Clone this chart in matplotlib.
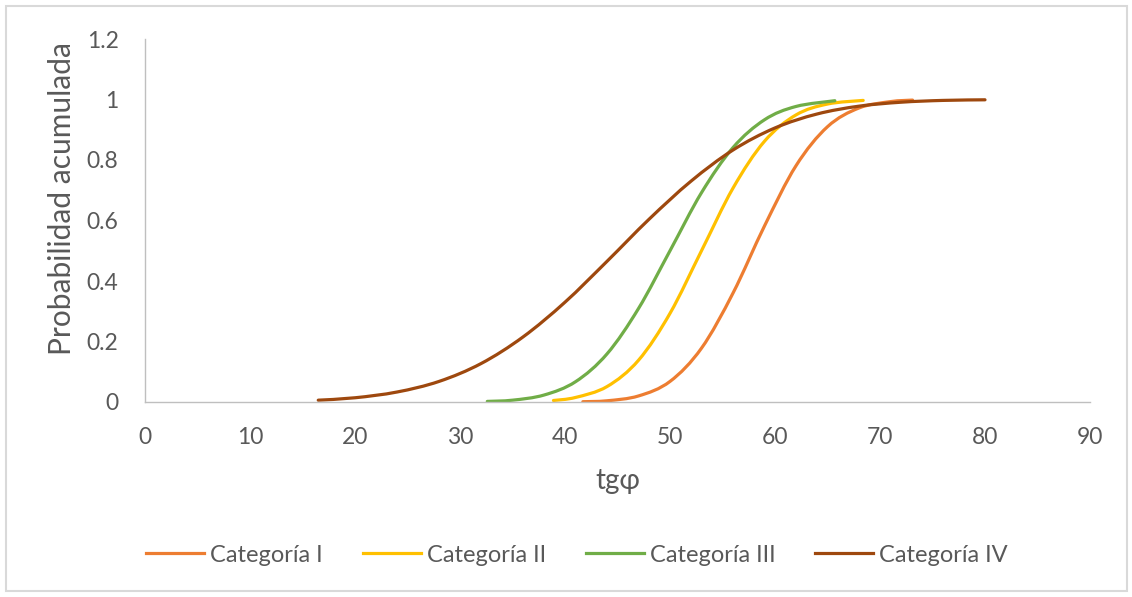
import matplotlib
matplotlib.use("Agg")
import matplotlib.pyplot as plt
from matplotlib.path import Path
from matplotlib.patches import PathPatch, Rectangle
from matplotlib.lines import Line2D
from matplotlib.ticker import FuncFormatter

plt.rcParams['font.family'] = ['Lato', 'DejaVu Sans']

# Cumulative probability curves by category
series_names = ["Categoría I", "Categoría II", "Categoría III", "Categoría IV"]

cat1_x = [41.7, 44, 47, 50, 53, 56, 59, 62, 65, 68, 71, 73.1]
cat1_y = [0.001, 0.004, 0.020, 0.068, 0.178, 0.360, 0.582, 0.781, 0.910, 0.972, 0.993, 0.998]

cat2_x = [38.9, 41, 44, 47, 50, 53, 56, 59, 62, 65, 68.4]
cat2_y = [0.005, 0.015, 0.051, 0.138, 0.293, 0.500, 0.707, 0.862, 0.949, 0.985, 0.997]

cat3_x = [32.6, 35, 38, 41, 44, 47, 50, 53, 56, 59, 62, 65.7]
cat3_y = [0.002, 0.006, 0.023, 0.067, 0.159, 0.309, 0.500, 0.692, 0.841, 0.933, 0.977, 0.996]

cat4_x = [16.5, 20, 24, 28, 32, 36, 40, 44, 48, 52, 56, 60, 64, 68, 72, 76, 80]
cat4_y = [0.006, 0.014, 0.033, 0.068, 0.127, 0.215, 0.330, 0.465, 0.604, 0.730,
          0.833, 0.906, 0.952, 0.978, 0.991, 0.997, 0.999]

series_colors = ["#ED7D31", "#FFC000", "#70AD47", "#9E480E"]

x_ticks = [0, 10, 20, 30, 40, 50, 60, 70, 80, 90]
y_ticks = [0, 0.2, 0.4, 0.6, 0.8, 1.0, 1.2]

W, H = 1132, 597
fig = plt.figure(figsize=(W / 100, H / 100), dpi=100)
ax = fig.add_axes([145 / W, 1 - 402 / H, (1090 - 145) / W, (402 - 39) / H])


def smooth_line_path(xs, ys):
    """Smoothed line through the points (cubic Bezier, Catmull-Rom tangents)."""
    pts = list(zip(xs, ys))
    n = len(pts)
    verts = [pts[0]]
    codes = [Path.MOVETO]
    for i in range(n - 1):
        p0 = pts[i - 1] if i > 0 else pts[i]
        p1 = pts[i]
        p2 = pts[i + 1]
        p3 = pts[i + 2] if i + 2 < n else pts[i + 1]
        c1 = (p1[0] + (p2[0] - p0[0]) / 6, p1[1] + (p2[1] - p0[1]) / 6)
        c2 = (p2[0] - (p3[0] - p1[0]) / 6, p2[1] - (p3[1] - p1[1]) / 6)
        verts += [c1, c2, p2]
        codes += [Path.CURVE4] * 3
    return Path(verts, codes)


all_x = [cat1_x, cat2_x, cat3_x, cat4_x]
all_y = [cat1_y, cat2_y, cat3_y, cat4_y]
handles = []
for xs, ys, col, name in zip(all_x, all_y, series_colors, series_names):
    patch = PathPatch(smooth_line_path(xs, ys), facecolor="none", edgecolor=col,
                      linewidth=2.3, capstyle="round", joinstyle="round",
                      transform=ax.transData)
    ax.add_patch(patch)
    handles.append(Line2D([], [], color=col, linewidth=2.3, label=name))

ax.set_xlim(0, 90)
ax.set_ylim(0, 1.2)
ax.set_xticks(x_ticks)
ax.set_yticks(y_ticks)
ax.yaxis.set_major_formatter(FuncFormatter(lambda v, p: f"{v:g}"))

for side in ("top", "right"):
    ax.spines[side].set_visible(False)
for side in ("left", "bottom"):
    ax.spines[side].set_color("#BFBFBF")
    ax.spines[side].set_linewidth(1.0)

ax.tick_params(axis="both", length=0, labelsize=16.5, labelcolor="#595959")
ax.tick_params(axis="y", pad=19)
ax.tick_params(axis="x", pad=18)

ax.set_ylabel("Probabilidad acumulada", fontsize=21.5, color="#595959", va="center")
ax.yaxis.set_label_coords(-0.0878, 0.56)
ax.set_xlabel("tgφ", fontsize=20, color="#595959", va="center")
ax.xaxis.set_label_coords(0.5, -0.2176)

fig.legend(handles=handles, loc="center", bbox_to_anchor=(577 / W, 1 - 555 / H),
           ncol=4, frameon=False, fontsize=17, labelcolor="#595959",
           handlelength=2.45, handletextpad=0.25, columnspacing=1.7)

# chart area border
fig.add_artist(Rectangle((6 / W, 1 - 591 / H), (1127 - 6) / W, (591 - 6) / H,
                         transform=fig.transFigure, fill=False,
                         edgecolor="#D9D9D9", linewidth=1.5))

fig.savefig("out.png", dpi=100)
